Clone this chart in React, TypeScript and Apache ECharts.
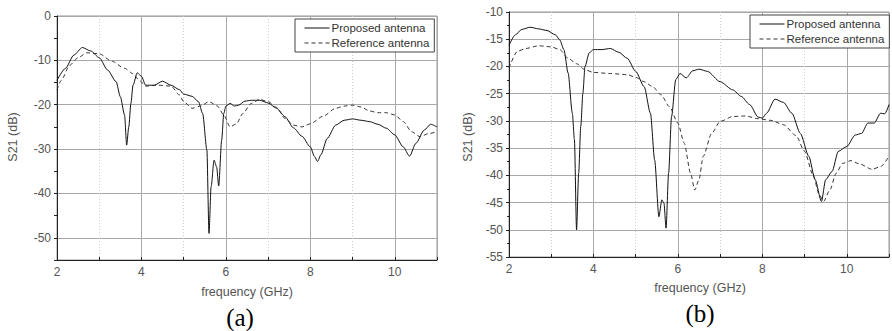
import React, { useEffect, useRef } from "react";
import * as echarts from "echarts";

// Panel (a)
const freqA_prop = [2.0, 2.2, 2.4, 2.6, 2.8, 3.0, 3.2, 3.4, 3.5, 3.6, 3.65, 3.7, 3.75, 3.8, 3.9, 4.0, 4.1, 4.3, 4.5, 4.7, 4.9, 5.0, 5.2, 5.35, 5.45, 5.55, 5.6, 5.65, 5.72, 5.78, 5.83, 5.9, 5.95, 6.0, 6.1, 6.2, 6.3, 6.45, 6.6, 6.8, 7.0, 7.2, 7.4, 7.6, 7.8, 8.0, 8.1, 8.17, 8.25, 8.4, 8.6, 8.8, 9.0, 9.2, 9.4, 9.6, 9.8, 10.0, 10.2, 10.35, 10.5, 10.7, 10.85, 11.0];
const s21A_prop = [-14.5, -11.8, -8.8, -7.1, -7.9, -9.4, -12.2, -14.8, -18.2, -22.3, -29.1, -25.0, -19.7, -15.6, -12.8, -13.6, -15.6, -15.6, -14.7, -15.6, -16.6, -17.6, -18.1, -19.3, -22.0, -30.2, -49.0, -38.5, -32.5, -34.0, -38.3, -28.0, -22.0, -20.3, -19.7, -20.3, -20.1, -19.2, -19.0, -19.0, -19.6, -20.8, -22.7, -25.2, -27.1, -29.5, -31.7, -32.8, -31.3, -27.6, -24.6, -23.5, -23.2, -23.5, -23.8, -24.4, -25.3, -26.8, -29.5, -31.6, -28.7, -25.7, -24.4, -25.0];
const freqA_ref = [2.0, 2.1, 2.3, 2.5, 2.7, 3.0, 3.3, 3.6, 3.8, 3.95, 4.1, 4.4, 4.7, 4.9, 5.0, 5.2, 5.4, 5.6, 5.8, 5.95, 6.1, 6.25, 6.4, 6.6, 6.8, 7.0, 7.2, 7.4, 7.6, 7.8, 8.0, 8.3, 8.6, 8.8, 9.0, 9.2, 9.4, 9.6, 9.8, 10.0, 10.2, 10.4, 10.6, 10.8, 11.0];
const s21A_ref = [-16.7, -14.5, -11.1, -9.4, -8.3, -8.5, -10.2, -11.8, -13.0, -14.5, -15.8, -15.6, -15.8, -17.8, -19.3, -20.8, -20.3, -19.3, -20.3, -22.3, -25.0, -24.3, -22.0, -19.7, -18.8, -19.3, -20.6, -23.1, -24.6, -25.0, -24.3, -22.6, -20.8, -20.3, -20.1, -20.5, -21.4, -21.8, -21.8, -22.3, -23.8, -26.1, -27.2, -26.5, -26.1];

// Panel (b)
const freqB_prop = [2.0, 2.15, 2.3, 2.5, 2.7, 2.9, 3.1, 3.2, 3.3, 3.4, 3.5, 3.55, 3.6, 3.65, 3.7, 3.75, 3.8, 3.9, 4.0, 4.2, 4.4, 4.6, 4.8, 5.0, 5.2, 5.35, 5.45, 5.55, 5.62, 5.67, 5.72, 5.78, 5.85, 5.95, 6.05, 6.2, 6.35, 6.5, 6.7, 7.0, 7.3, 7.5, 7.7, 7.9, 8.0, 8.1, 8.3, 8.5, 8.7, 8.9, 9.1, 9.25, 9.4, 9.5, 9.65, 9.8, 10.0, 10.2, 10.35, 10.5, 10.65, 10.8, 10.9, 11.0];
const s21B_prop = [-16.1, -14.2, -13.2, -12.8, -13.1, -13.4, -14.2, -15.1, -16.9, -21.2, -28.6, -33.5, -50.0, -39.6, -31.0, -24.9, -20.0, -17.5, -16.9, -16.9, -16.7, -17.4, -18.5, -20.9, -23.7, -28.6, -37.2, -47.6, -44.5, -45.1, -49.7, -39.6, -29.2, -22.4, -21.3, -22.1, -20.8, -20.5, -20.9, -22.8, -24.3, -25.5, -27.0, -29.3, -29.5, -28.6, -26.0, -26.6, -28.6, -32.3, -36.5, -40.8, -44.8, -40.8, -39.3, -35.6, -34.7, -32.6, -32.3, -30.4, -30.4, -28.6, -28.7, -27.0];
const freqB_ref = [2.0, 2.2, 2.4, 2.7, 3.0, 3.2, 3.4, 3.6, 3.8, 4.0, 4.4, 4.8, 5.0, 5.2, 5.4, 5.6, 5.8, 6.0, 6.15, 6.3, 6.4, 6.5, 6.6, 6.8, 7.0, 7.3, 7.6, 7.9, 8.2, 8.5, 8.8, 9.0, 9.2, 9.35, 9.45, 9.6, 9.75, 9.9, 10.1, 10.3, 10.6, 10.8, 11.0];
const s21B_ref = [-20.3, -17.2, -16.7, -16.2, -16.4, -16.9, -18.5, -19.5, -20.6, -21.1, -21.3, -21.5, -22.0, -22.8, -23.7, -25.2, -27.4, -30.4, -34.1, -39.6, -42.7, -40.8, -36.5, -32.3, -30.1, -29.2, -29.1, -29.6, -29.9, -30.7, -32.7, -35.6, -39.9, -43.6, -44.8, -42.7, -39.6, -37.8, -37.3, -37.9, -38.9, -38.4, -36.5];

const seriesNames = ["Proposed antenna", "Reference antenna"];
const panelLabels = ["(a)", "(b)"];
const xName = "frequency (GHz)";
const yName = "S21 (dB)";

const zip = (xs: number[], ys: number[]) => xs.map((x, i) => [x, ys[i]]);

const FONT = "Liberation Sans, Arial, sans-serif";

export default function App() {
  const ref = useRef<HTMLDivElement>(null);
  useEffect(() => {
    if (!ref.current) return;
    const chart = echarts.init(ref.current, null, { renderer: "svg" });

    const grids = [
      { left: 57, top: 16, width: 380, height: 244 },
      { left: 509, top: 12, width: 381, height: 245 },
    ];

    const xMain = (gi: number) => ({
      type: "value",
      gridIndex: gi,
      min: 2,
      max: 11,
      interval: 1,
      axisLine: { show: true, onZero: false, lineStyle: { color: "#222", width: 1 } },
      axisTick: { show: true, inside: true, length: 3, lineStyle: { color: "#222" } },
      axisLabel: {
        fontFamily: FONT,
        fontSize: 12,
        color: "#555",
        margin: 6,
        formatter: (v: number) => (v % 2 === 0 ? String(v) : ""),
      },
      splitLine: { show: true, lineStyle: { color: "#cfcfcf", type: [1, 2], width: 1 } },
    });
    const xMajor = (gi: number) => ({
      type: "value",
      gridIndex: gi,
      position: "bottom",
      min: 2,
      max: 11,
      interval: 2,
      axisLine: { show: false },
      axisTick: { show: false },
      axisLabel: { show: false },
      splitLine: { show: true, lineStyle: { color: "#a8a8a8", width: 1 } },
    });

    const yA = {
      type: "value",
      gridIndex: 0,
      min: -55,
      max: 0,
      interval: 5,
      axisLine: { show: true, onZero: false, lineStyle: { color: "#222", width: 1 } },
      axisTick: { show: true, inside: false, length: 3, lineStyle: { color: "#222" } },
      axisLabel: {
        fontFamily: FONT,
        fontSize: 12,
        color: "#555",
        margin: 6,
        formatter: (v: number) => (v % 10 === 0 ? String(v) : ""),
      },
      splitLine: {
        show: true,
        lineStyle: { color: ["rgba(0,0,0,0)", "#a8a8a8"], width: 1 },
      },
    };
    const yB = {
      type: "value",
      gridIndex: 1,
      min: -55,
      max: -10,
      interval: 5,
      axisLine: { show: true, onZero: false, lineStyle: { color: "#222", width: 1 } },
      axisTick: { show: true, inside: false, length: 3, lineStyle: { color: "#222" } },
      minorTick: { show: true, splitNumber: 2, length: 2, lineStyle: { color: "#222" } },
      axisLabel: { fontFamily: FONT, fontSize: 12, color: "#555", margin: 6 },
      splitLine: { show: true, lineStyle: { color: "#a8a8a8", width: 1 } },
    };

    const mkSeries = (name: string, data: number[][], xi: number, yi: number, dashed: boolean) => ({
      type: "line",
      name,
      xAxisIndex: xi,
      yAxisIndex: yi,
      data,
      symbol: "none",
      smooth: 0.25,
      smoothMonotone: "x",
      itemStyle: { color: dashed ? "#333" : "#111" },
      lineStyle: dashed
        ? { color: "#333", width: 1, type: [4, 3] }
        : { color: "#111", width: 1, type: "solid" },
      z: 5,
    });

    const legendBase = {
      orient: "vertical",
      data: seriesNames,
      itemWidth: 25,
      itemHeight: 10,
      itemGap: 3,
      padding: [3, 5, 3, 9],
      backgroundColor: "#fff",
      borderColor: "#444",
      borderWidth: 1,
      borderRadius: 0,
      selectedMode: false,
      itemStyle: { color: "rgba(0,0,0,0)", borderColor: "rgba(0,0,0,0)", borderWidth: 0 },
      lineStyle: { width: 1 },
      textStyle: { fontFamily: FONT, fontSize: 11.5, color: "#333", padding: [0, 0, 0, -3] },
      z: 10,
    };

    const textG = (text: string, x: number, y: number, opts: any = {}) => ({
      type: "text",
      x,
      y,
      rotation: opts.rotation || 0,
      z: 20,
      style: {
        text,
        fill: opts.fill || "#555",
        font: opts.font || `12px ${FONT}`,
        textAlign: "center",
        textVerticalAlign: "middle",
      },
    });

    chart.setOption({
      animation: false,
      backgroundColor: "#fff",
      grid: grids.map((g) => ({
        ...g,
        show: true,
        borderColor: "#999",
        borderWidth: 1,
        backgroundColor: "#fff",
        containLabel: false,
      })),
      xAxis: [xMain(0), xMajor(0), xMain(1), xMajor(1)],
      yAxis: [yA, yB],
      legend: [
        { ...legendBase, left: 295, top: 19 },
        { ...legendBase, left: 750, top: 15 },
      ],
      series: [
        mkSeries(seriesNames[0], zip(freqA_prop, s21A_prop), 0, 0, false),
        mkSeries(seriesNames[1], zip(freqA_ref, s21A_ref), 0, 0, true),
        mkSeries(seriesNames[0], zip(freqB_prop, s21B_prop), 2, 1, false),
        mkSeries(seriesNames[1], zip(freqB_ref, s21B_ref), 2, 1, true),
      ],
      graphic: [
        textG(xName, 247, 292, { font: `12.5px ${FONT}` }),
        textG(xName, 700, 288, { font: `12.5px ${FONT}` }),
        textG(yName, 13, 137, { rotation: Math.PI / 2, font: `12.5px ${FONT}` }),
        textG(yName, 468, 137, { rotation: Math.PI / 2, font: `12.5px ${FONT}` }),
        textG(panelLabels[0], 240, 317, { fill: "#000", font: `25px "Liberation Serif", "Times New Roman", serif` }),
        textG(panelLabels[1], 700, 313, { fill: "#000", font: `25px "Liberation Serif", "Times New Roman", serif` }),
      ],
    });
    return () => chart.dispose();
  }, []);
  return (
    <div
      ref={ref}
      style={{ position: "absolute", left: 0, top: 0, width: 892, height: 331 }}
    />
  );
}
